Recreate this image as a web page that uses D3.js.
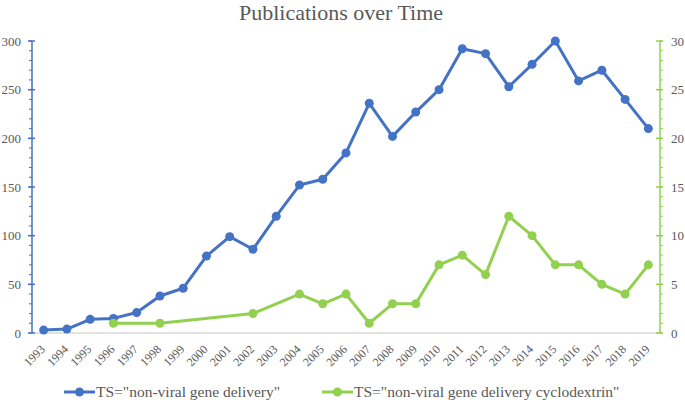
<!DOCTYPE html>
<html>
<head>
<meta charset="utf-8">
<script src="https://cdnjs.cloudflare.com/ajax/libs/d3/7.8.5/d3.min.js"></script>
<style>
  body { margin: 0; background: #fff; }
</style>
</head>
<body>
<div id="chart"></div>
<script>
var years = ["1993","1994","1995","1996","1997","1998","1999","2000","2001","2002","2003","2004","2005","2006",
  "2007","2008","2009","2010","2011","2012","2013","2014","2015","2016","2017","2018","2019"];
var geneDelivery = [3,4,14,15,21,38,46,79,99,86,120,152,158,185,236,202,227,250,292,287,253,276,300,259,270,240,210];
var cycloYears = ["1996","1998","2002","2004","2005","2006","2007","2008","2009","2010","2011","2012","2013",
  "2014","2015","2016","2017","2018","2019"];
var cycloValues = [1,1,2,4,3,4,1,3,3,7,8,6,12,10,7,7,5,4,7];
var leftTicks = [0,50,100,150,200,250,300];
var rightTicks = [0,5,10,15,20,25,30];
var seriesNames = ['TS="non-viral gene delivery"', 'TS="non-viral gene delivery cyclodextrin"'];

var svgWidth = 685, svgHeight = 400;
var margin = {top: 41, right: 25, bottom: 67, left: 32};
var width = svgWidth - margin.left - margin.right;
var height = svgHeight - margin.top - margin.bottom;

var blue = "#4472c4", green = "#92d050", grey = "#595959";
var serif = "'Liberation Serif', Tinos, 'Nimbus Roman', 'Times New Roman', 'DejaVu Serif', serif";

var svg = d3.select("#chart").append("svg")
  .attr("width", svgWidth)
  .attr("height", svgHeight)
  .style("font-family", serif);

svg.append("text")
  .attr("x", 341)
  .attr("y", 19.5)
  .attr("text-anchor", "middle")
  .attr("font-size", 22)
  .attr("fill", grey)
  .text("Publications over Time");

var g = svg.append("g").attr("transform", `translate(${margin.left}, ${margin.top})`);

var x = d3.scalePoint().domain(years).range([0, width]).padding(0.5);
var yLeft = d3.scaleLinear().domain([0, 300]).range([height, 0]);
var yRight = d3.scaleLinear().domain([0, 30]).range([height, 0]);

// x axis baseline
g.append("line")
  .attr("x1", 0).attr("x2", width)
  .attr("y1", height).attr("y2", height)
  .attr("stroke", "#d9d9d9").attr("stroke-width", 1.5);

g.selectAll(".xlab").data(years).enter().append("text")
  .attr("class", "xlab")
  .attr("font-size", 12)
  .attr("fill", grey)
  .attr("text-anchor", "end")
  .attr("transform", d => `translate(${x(d) + 2}, ${height + 17}) rotate(-45)`)
  .text(d => d);

// left axis
var leftAxis = g.append("g");
leftAxis.append("line").attr("x1", 0).attr("x2", 0).attr("y1", 0).attr("y2", height)
  .attr("stroke", blue).attr("stroke-width", 1.5);
leftAxis.selectAll(".minor").data(d3.range(0, 301, 10)).enter().append("line")
  .attr("x1", -3).attr("x2", 0)
  .attr("y1", d => yLeft(d)).attr("y2", d => yLeft(d))
  .attr("stroke", blue).attr("stroke-width", 1);
leftAxis.selectAll(".major").data(leftTicks).enter().append("line")
  .attr("x1", -4).attr("x2", 3)
  .attr("y1", d => yLeft(d)).attr("y2", d => yLeft(d))
  .attr("stroke", blue).attr("stroke-width", 1.5);
leftAxis.selectAll("text").data(leftTicks).enter().append("text")
  .attr("x", -11).attr("y", d => yLeft(d)).attr("dy", "0.35em")
  .attr("text-anchor", "end").attr("font-size", 13).attr("fill", grey)
  .text(d => d);

// right axis
var rightAxis = g.append("g").attr("transform", `translate(${width}, 0)`);
rightAxis.append("line").attr("x1", 0).attr("x2", 0).attr("y1", 0).attr("y2", height)
  .attr("stroke", green).attr("stroke-width", 1.5);
rightAxis.selectAll(".minor").data(d3.range(0, 31, 1)).enter().append("line")
  .attr("x1", 0).attr("x2", 3)
  .attr("y1", d => yRight(d)).attr("y2", d => yRight(d))
  .attr("stroke", green).attr("stroke-width", 1);
rightAxis.selectAll(".major").data(rightTicks).enter().append("line")
  .attr("x1", -4).attr("x2", 3)
  .attr("y1", d => yRight(d)).attr("y2", d => yRight(d))
  .attr("stroke", green).attr("stroke-width", 1.5);
rightAxis.selectAll("text").data(rightTicks).enter().append("text")
  .attr("x", 11).attr("y", d => yRight(d)).attr("dy", "0.35em")
  .attr("font-size", 13).attr("fill", grey)
  .text(d => d);

// series
var blueData = years.map((y, i) => ({year: y, value: geneDelivery[i]}));
var greenData = cycloYears.map((y, i) => ({year: y, value: cycloValues[i]}));

g.append("path").datum(blueData)
  .attr("fill", "none").attr("stroke", blue).attr("stroke-width", 3)
  .attr("stroke-linejoin", "round")
  .attr("d", d3.line().x(d => x(d.year)).y(d => yLeft(d.value)));
g.selectAll(".bdot").data(blueData).enter().append("circle")
  .attr("cx", d => x(d.year)).attr("cy", d => yLeft(d.value))
  .attr("r", 4.5).attr("fill", blue);

g.append("path").datum(greenData)
  .attr("fill", "none").attr("stroke", green).attr("stroke-width", 3)
  .attr("stroke-linejoin", "round")
  .attr("d", d3.line().x(d => x(d.year)).y(d => yRight(d.value)));
g.selectAll(".gdot").data(greenData).enter().append("circle")
  .attr("cx", d => x(d.year)).attr("cy", d => yRight(d.value))
  .attr("r", 4.5).attr("fill", green);

// legend
var legendX = [64, 322];
var legend = svg.selectAll(".legend").data(seriesNames).enter().append("g")
  .attr("transform", (d, i) => `translate(${legendX[i]}, 392)`);
legend.append("line")
  .attr("x1", 0).attr("x2", 31).attr("y1", 0).attr("y2", 0)
  .attr("stroke", (d, i) => i ? green : blue).attr("stroke-width", 3);
legend.append("circle")
  .attr("cx", 15.5).attr("cy", 0).attr("r", 4.5)
  .attr("fill", (d, i) => i ? green : blue);
legend.append("text")
  .attr("x", 32).attr("y", 0).attr("dy", "0.35em")
  .attr("font-size", 15.5).attr("fill", grey)
  .text(d => d);
</script>
</body>
</html>
